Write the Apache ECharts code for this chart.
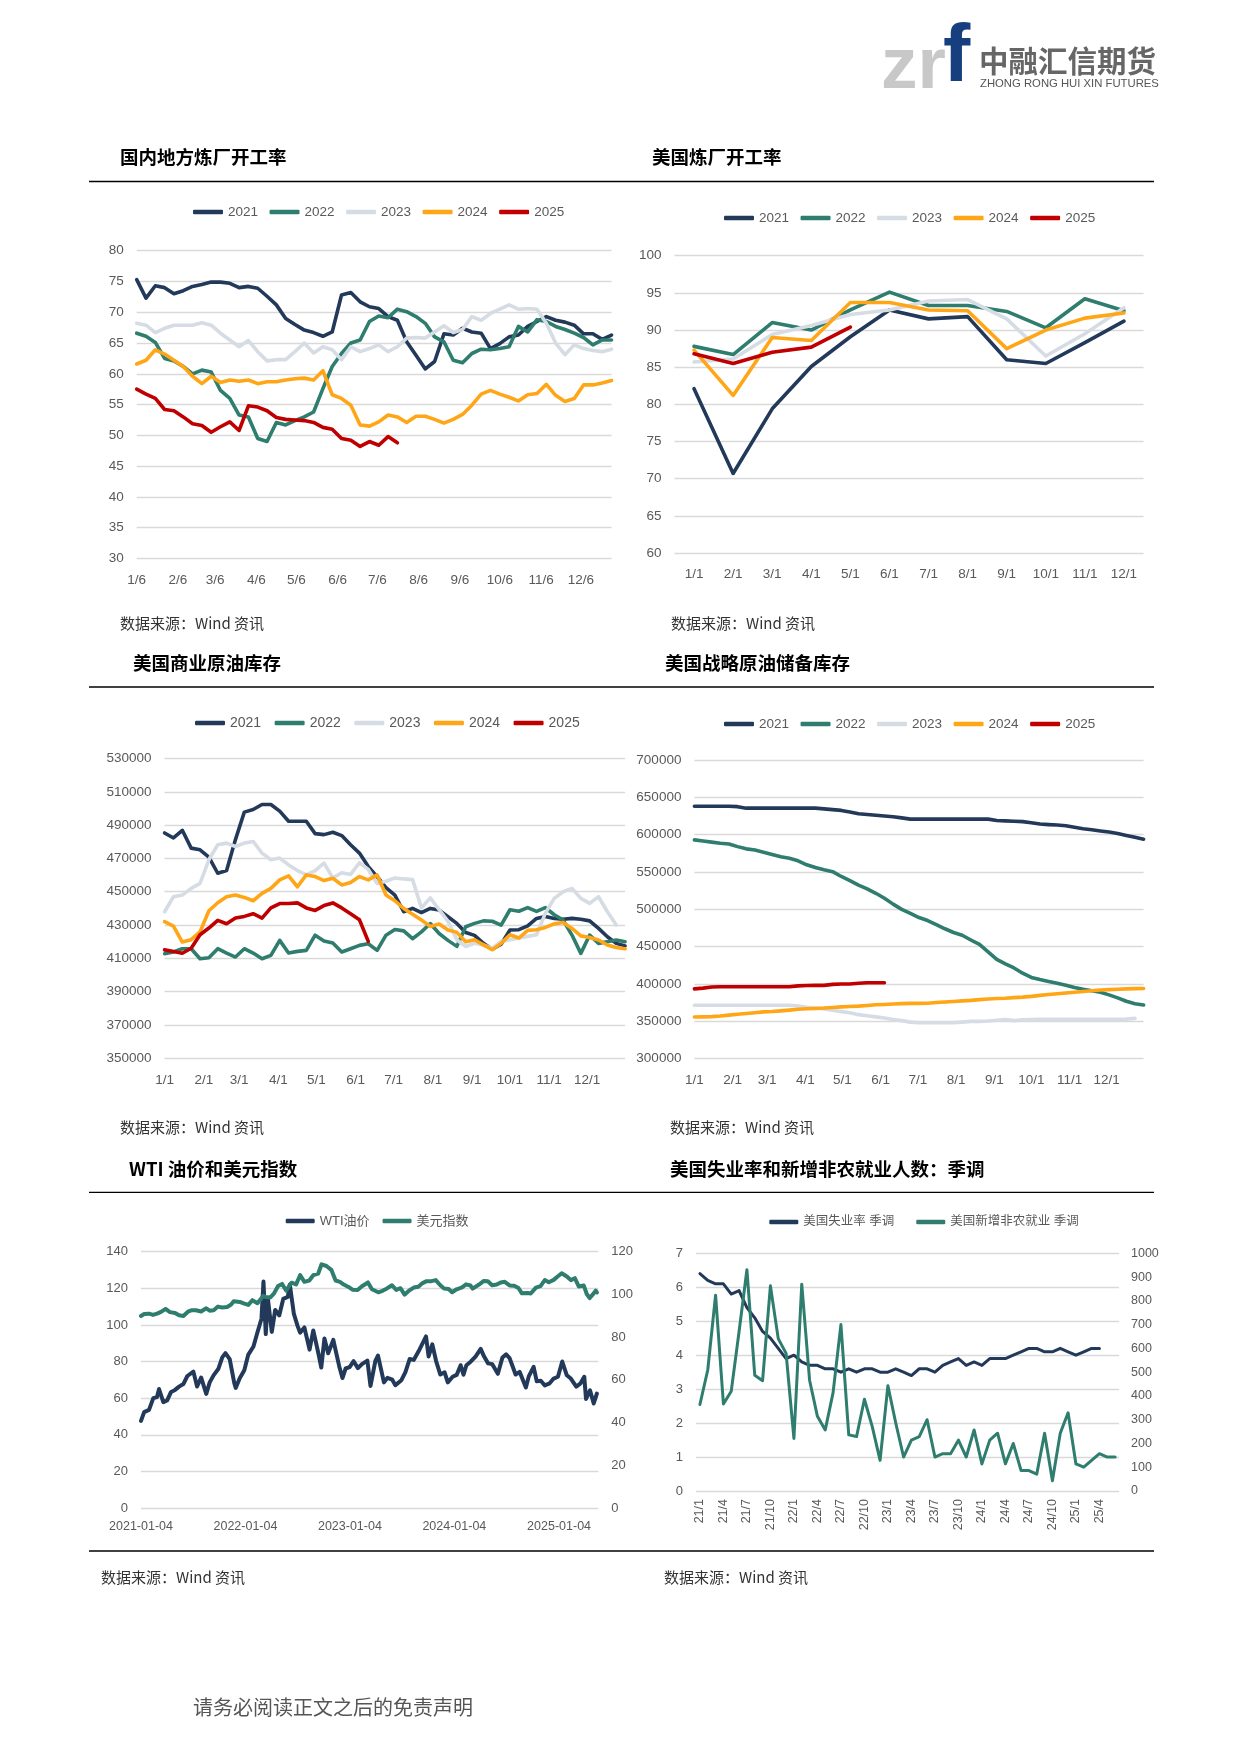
<!DOCTYPE html>
<html><head><meta charset="utf-8">
<script src="https://cdn.jsdelivr.net/npm/echarts@6/dist/echarts.min.js"></script>
<style>html,body{margin:0;padding:0;background:#fff}#page{width:1241px;height:1755px}</style>
</head><body><div id="page"></div>
<script>
// ---------- shared ----------
const years = ['2021','2022','2023','2024','2025'];
const yearColors = ['#22395a','#2e7d6e','#d6dce4','#ffa617','#c00000'];
const monthOffsets = [0,31,59,90,120,151,181,212,243,273,304,334];

// ---------- chart 1: 国内地方炼厂开工率 (weekly) ----------
const c1Ticks = ['1/6','2/6','3/6','4/6','5/6','6/6','7/6','8/6','9/6','10/6','11/6','12/6'];
const c1_2021 = [75.3,72.3,74.3,74.0,73.0,73.5,74.2,74.5,74.9,74.9,74.7,74.0,74.2,73.9,72.6,71.2,69.0,68.0,67.1,66.7,66.1,66.8,72.8,73.2,71.7,70.9,70.6,69.3,68.7,65.2,63.0,60.8,62.0,66.5,66.3,67.4,66.8,66.6,64.1,64.9,66.0,66.3,67.7,68.5,69.3,68.7,68.4,67.9,66.5,66.5,65.6,66.3];
const c1_2022 = [66.6,66.1,65.1,62.5,62.1,61.2,60.0,60.6,60.3,57.3,56.0,53.3,53.0,49.5,49.0,52.1,51.7,52.4,53.0,53.8,57.6,61.2,63.3,65.0,65.5,68.5,69.4,69.1,70.5,70.1,69.3,68.2,66.0,65.2,62.2,61.8,63.3,64.0,63.9,64.1,64.4,67.7,66.8,68.8,68.5,67.7,67.2,66.6,65.9,64.7,65.5,65.5];
const c1_2023 = [68.2,67.9,66.7,67.4,67.9,67.9,67.9,68.3,67.9,66.6,65.5,64.4,65.4,63.6,62.1,62.3,62.3,63.6,65.0,63.4,64.4,63.9,62.3,64.4,63.6,64.1,64.7,63.6,64.4,65.8,65.9,65.8,66.8,67.8,66.7,67.2,69.3,68.7,69.8,70.5,71.2,70.5,70.6,70.5,68.2,65.0,63.1,64.7,64.1,63.8,63.6,64.0];
const c1_2024 = [61.6,62.2,63.9,63.2,62.2,61.2,59.6,58.4,59.6,58.6,59.0,58.8,59.0,58.4,58.7,58.7,59.0,59.2,59.3,59.0,60.5,56.6,56.0,54.9,51.7,51.5,52.2,53.3,53.0,52.1,53.1,53.1,52.6,52.0,52.6,53.4,54.9,56.7,57.3,56.7,56.2,55.6,56.6,56.8,58.3,56.5,55.5,56.0,58.2,58.2,58.5,58.9];
const c1_2025 = [57.5,56.7,56.0,54.2,54.0,53.0,51.9,51.6,50.5,51.4,52.2,50.8,54.8,54.6,54.0,52.9,52.6,52.5,52.4,52.1,51.3,51.0,49.5,49.2,48.2,49.0,48.4,49.8,48.8];

// ---------- chart 2: 美国炼厂开工率 (monthly) ----------
const c2Months = ['1/1','2/1','3/1','4/1','5/1','6/1','7/1','8/1','9/1','10/1','11/1','12/1'];
const c2_2021 = [82.1,70.7,79.4,85.1,89.1,92.7,91.5,91.8,86.0,85.5,88.3,91.2];
const c2_2022 = [87.8,86.7,91.0,90.0,92.7,95.1,93.3,93.3,92.5,90.3,94.2,92.6];
const c2_2023 = [85.7,86.1,89.4,90.6,92.1,92.7,93.9,94.1,91.5,86.5,89.5,93.0];
const c2_2024 = [87.3,81.2,89.0,88.6,93.7,93.7,92.7,92.6,87.5,90.0,91.6,92.3];
const c2_2025 = [86.8,85.5,87.0,87.7,90.4];

// ---------- chart 3: 美国商业原油库存 (weekly) ----------
const c3Ticks = ['1/1','2/1','3/1','4/1','5/1','6/1','7/1','8/1','9/1','10/1','11/1','12/1'];
const c3_2021 = [485300,482300,486900,476200,475200,470800,461100,462700,481300,497800,499400,502400,502400,498400,492300,492300,492300,484900,484300,485700,483700,478200,473200,465100,459000,452500,448000,438000,440000,437500,440000,439000,435000,431000,425500,423800,419000,415500,418500,427000,427200,429500,434000,435200,434000,433500,434000,433500,432500,428000,423000,419000,417500];
const c3_2022 = [412800,413800,415800,415800,409800,410400,415800,413200,410800,415800,413200,409800,411800,420800,413200,414200,414800,423900,420400,419200,413800,415800,417800,418800,414800,423900,427300,426500,421800,425900,430900,424900,420800,417200,429000,431000,432500,432300,430000,439200,438300,440500,438200,440500,436200,433000,424000,413000,424000,419000,420000,421000,420000];
const c3_2023 = [438000,447000,448000,452000,455000,469200,478200,479200,477200,479200,480200,473200,469200,470200,466100,462700,460100,462700,467200,458300,461400,460400,467400,463400,455000,456300,458300,457700,457300,440300,446300,439300,432200,421200,417100,419100,418100,416100,420200,421200,422200,423200,424200,437200,446000,450000,452000,446000,443000,447000,438000,430000];
const c3_2024 = [432000,429300,419800,421200,425900,438600,443400,447000,448000,446600,444600,449000,452000,457100,459500,453000,460100,459100,456700,458100,454100,455500,459100,457100,460100,448000,444600,440000,436500,433000,429200,430600,427000,425600,420000,421200,418100,415200,419000,424200,422200,426800,427200,428600,430700,431500,428000,423500,422500,421000,418000,416500,415800];
const c3_2025 = [415100,414100,413100,416100,424200,428200,432800,430800,434200,435200,436800,434200,440300,442900,442900,443300,440300,438800,441700,443300,440300,436800,433200,420200];

// ---------- chart 4: 美国战略原油储备库存 (weekly) ----------
const c4_2021 = [638000,638000,638000,638000,638000,637500,635500,635500,635500,635500,635500,635500,635500,635500,635500,634500,633500,632500,630500,628000,627000,626000,625000,624000,622500,620800,620800,620800,620800,620800,620800,620800,620800,620800,620800,619000,618500,618000,617500,616000,614200,613500,613000,612000,610000,608000,606500,605000,603500,601500,599000,596500,594000];
const c4_2022 = [593000,591500,590000,588500,587600,584000,581000,579500,576500,573500,570500,568500,565000,559700,556000,553000,550500,544000,538500,532500,527500,521500,514800,507000,500000,494500,489000,485000,479500,474000,469000,465300,459000,453000,443000,433000,427000,421500,414500,408800,406000,403500,401000,398500,395500,393000,391000,389000,385500,381500,377000,373500,372000];
const c4_2023 = [371500,371500,371500,371500,371500,371500,371500,371500,371500,371500,371500,371500,370500,369000,368000,366500,365000,363000,361500,359000,357500,356000,354500,352500,351000,349000,348200,348200,348200,348200,348200,349000,350000,350000,350500,351500,352500,351000,352000,352500,352700,352700,352700,352700,352700,352700,352700,352700,352700,352700,353000,354000];
const c4_2024 = [355800,356000,356300,357200,358400,359500,360500,361500,362700,363200,364000,365000,366200,366800,367300,367800,368600,369400,370000,370400,371300,372200,372600,373200,373700,374100,374100,374200,375200,376000,376700,377400,378100,379100,380000,380700,381000,381800,382500,383500,384800,386000,387000,388000,389000,390000,391000,392000,392500,393000,393500,393800,394000];
const c4_2025 = [393500,394500,396000,396400,396400,396400,396400,396400,396400,396400,396400,396400,397500,398000,398200,398200,399500,400000,400000,401000,401800,401800,401800];

// ---------- chart 5: WTI油价 / 美元指数 ----------
const c5YearTicks = ['2021-01-04','2022-01-04','2023-01-04','2024-01-04','2025-01-04'];
const wtiDates = ['2021-01-04','2021-01-15','2021-02-01','2021-02-16','2021-03-01','2021-03-08','2021-03-23','2021-04-05','2021-04-19','2021-05-03','2021-05-17','2021-06-01','2021-06-15','2021-07-06','2021-07-19','2021-08-02','2021-08-20','2021-09-01','2021-09-15','2021-10-01','2021-10-15','2021-10-26','2021-11-10','2021-11-26','2021-12-01','2021-12-15','2021-12-31',
'2022-01-14','2022-02-01','2022-02-14','2022-03-01','2022-03-08','2022-03-16','2022-03-23','2022-04-06','2022-04-18','2022-05-02','2022-05-16','2022-06-01','2022-06-08','2022-06-22','2022-07-05','2022-07-14','2022-07-29','2022-08-16','2022-08-29','2022-09-15','2022-09-26','2022-10-07','2022-10-20','2022-11-07','2022-11-28','2022-12-09','2022-12-20',
'2023-01-03','2023-01-17','2023-02-01','2023-02-15','2023-03-06','2023-03-17','2023-04-03','2023-04-12','2023-05-03','2023-05-15','2023-06-01','2023-06-12','2023-07-03','2023-07-17','2023-08-01','2023-08-15','2023-09-01','2023-09-27','2023-10-06','2023-10-19','2023-11-01','2023-11-16','2023-12-01','2023-12-12','2023-12-29',
'2024-01-12','2024-01-26','2024-02-05','2024-02-15','2024-03-01','2024-03-18','2024-04-05','2024-04-17','2024-05-01','2024-05-15','2024-06-04','2024-06-20','2024-07-03','2024-07-15','2024-08-05','2024-08-19','2024-09-10','2024-09-20','2024-10-07','2024-10-18','2024-11-01','2024-11-15','2024-12-02','2024-12-16','2024-12-31',
'2025-01-15','2025-01-31','2025-02-14','2025-03-05','2025-03-20','2025-04-02','2025-04-08','2025-04-22','2025-05-05','2025-05-16'];
const wtiValues = [47.6,52.4,53.6,60.0,60.6,65.0,57.8,58.7,63.4,64.5,66.3,67.7,72.1,74.5,66.4,71.3,62.3,68.6,72.6,75.9,82.3,84.6,81.3,68.2,65.6,70.9,75.2,
83.8,88.2,95.5,103.4,123.7,95.0,114.9,96.2,108.2,105.2,114.2,115.3,122.1,106.2,99.5,95.8,98.6,86.5,97.0,85.1,76.7,92.6,84.5,91.8,77.2,71.0,76.2,
76.9,80.2,76.4,78.6,80.5,66.7,80.4,83.3,68.6,71.1,70.1,67.1,69.8,74.2,81.4,80.9,85.6,93.7,82.8,89.4,80.4,72.9,74.1,68.6,71.7,
72.7,78.0,72.8,78.0,79.9,82.7,86.9,82.7,79.0,78.6,73.3,82.2,83.9,81.9,72.9,74.4,65.8,71.9,77.1,69.2,69.5,67.0,68.1,70.7,71.7,
80.0,72.5,70.7,66.3,68.1,71.7,59.6,64.3,57.1,62.5];
const dxyDates = ['2021-01-04','2021-01-15','2021-02-01','2021-02-15','2021-03-01','2021-03-15','2021-03-31','2021-04-15','2021-05-03','2021-05-17','2021-06-01','2021-06-17','2021-07-01','2021-07-15','2021-08-02','2021-08-20','2021-09-01','2021-09-15','2021-09-30','2021-10-15','2021-11-01','2021-11-15','2021-11-24','2021-12-15','2021-12-31',
'2022-01-14','2022-01-28','2022-02-15','2022-03-07','2022-03-15','2022-04-01','2022-04-14','2022-04-28','2022-05-12','2022-05-26','2022-06-14','2022-06-30','2022-07-14','2022-07-29','2022-08-15','2022-08-29','2022-09-15','2022-09-27','2022-10-14','2022-10-31','2022-11-15','2022-11-30','2022-12-15','2022-12-30',
'2023-01-13','2023-01-31','2023-02-15','2023-02-28','2023-03-08','2023-03-22','2023-04-13','2023-04-28','2023-05-12','2023-05-31','2023-06-15','2023-06-30','2023-07-14','2023-07-31','2023-08-15','2023-08-31','2023-09-15','2023-09-29','2023-10-03','2023-10-16','2023-10-31','2023-11-15','2023-11-29','2023-12-15','2023-12-27',
'2024-01-12','2024-01-31','2024-02-14','2024-02-29','2024-03-08','2024-03-29','2024-04-16','2024-04-30','2024-05-15','2024-05-31','2024-06-14','2024-06-28','2024-07-15','2024-07-31','2024-08-15','2024-08-27','2024-09-16','2024-09-27','2024-10-15','2024-10-31','2024-11-15','2024-11-29','2024-12-16','2024-12-31',
'2025-01-13','2025-01-31','2025-02-14','2025-02-28','2025-03-14','2025-03-31','2025-04-11','2025-04-21','2025-05-02','2025-05-12','2025-05-16'];
const dxyValues = [89.9,90.8,91.0,90.4,91.0,91.8,93.2,91.7,91.3,90.2,89.9,91.9,92.6,92.6,92.0,93.5,92.4,92.6,94.3,93.9,94.1,95.3,96.8,96.5,95.7,
95.1,97.3,95.9,99.3,98.8,98.6,100.5,103.9,104.9,101.8,105.5,104.7,109.0,105.9,106.5,109.0,109.7,114.1,113.3,111.5,106.5,105.9,104.5,103.5,
102.2,102.1,103.8,104.9,105.6,102.4,101.0,101.7,102.7,104.3,102.1,102.9,99.9,101.9,103.2,103.6,105.3,106.2,107.0,106.2,106.7,104.4,102.8,102.5,101.0,
102.4,103.3,104.7,104.2,102.7,104.5,106.3,106.2,104.3,104.6,105.6,105.9,104.2,104.1,103.0,100.5,100.7,100.4,103.2,103.9,106.7,105.7,106.8,108.5,
109.9,108.4,106.7,107.6,103.7,104.2,100.1,98.3,100.0,101.8,100.9];

// ---------- chart 6: 美国失业率 / 新增非农 ----------
const c6Months = [];
for (let y = 21; y <= 25; y++) for (let m = 1; m <= 12; m++) { if (y === 25 && m > 6) break; c6Months.push(y + '/' + m); }
const unempRate = [6.4,6.2,6.1,6.1,5.8,5.9,5.4,5.1,4.7,4.5,4.2,3.9,
4.0,3.8,3.7,3.7,3.6,3.6,3.5,3.6,3.5,3.6,3.6,3.5,
3.5,3.6,3.5,3.4,3.6,3.6,3.5,3.7,3.8,3.9,3.7,3.8,
3.7,3.9,3.9,3.9,4.0,4.1,4.2,4.2,4.1,4.1,4.2,4.1,
4.0,4.1,4.2,4.2];
const nonfarm = [364,509,824,366,420,671,931,487,464,863,641,579,
221,870,466,314,257,414,700,236,229,386,271,129,
443,286,143,214,229,300,143,157,157,214,143,257,
114,214,243,114,200,86,86,71,243,43,243,329,
114,100,129,157,143,143];

// ---------- helpers ----------
const NARROW = '"Liberation Sans Narrow","Liberation Sans",Arial,sans-serif';
const CJK = '"Noto Sans CJK SC","Noto Sans",sans-serif';
const labelColor = '#595959';
const gridLine = {show:true, lineStyle:{color:'#d9d9d9', width:1.3}};
const dayOf = s => Math.round((Date.parse(s) - Date.parse('2021-01-04')) / 86400000);
const weekly = arr => arr.map((v, i) => [i * 7, v]);
const plain = v => String(v);

function valueY(gi, min, max, interval, opts) {
  return Object.assign({type:'value', gridIndex:gi, min, max, interval,
    axisLine:{show:false}, axisTick:{show:false}, splitLine:gridLine,
    axisLabel:{color:labelColor, fontFamily:NARROW, fontSize:13.5, margin:13, formatter:plain}}, opts || {});
}
function dayX(gi, max, ticks, margin) {
  return {type:'value', gridIndex:gi, min:0, max,
    axisLine:{show:false}, axisTick:{show:false}, splitLine:{show:false},
    axisLabel:{color:labelColor, fontFamily:NARROW, fontSize:13.5, margin,
      customValues: monthOffsets, formatter: v => ticks[monthOffsets.indexOf(v)] || ''}};
}
function line(name, data, color, xi, yi, width) {
  return {type:'line', name, data, xAxisIndex:xi, yAxisIndex:yi, symbol:'none', showSymbol:false,
    lineStyle:{color, width, cap:'round', join:'round'}, itemStyle:{color},
    animation:false, silent:true, emphasis:{disabled:true}, z:2};
}
function legend(left, top, names, gap, iw, fs) {
  return {left, top, padding:0, itemGap:gap, itemWidth:iw, itemHeight:4.5, icon:'roundRect',
    selectedMode:false, data:names,
    textStyle:{color:labelColor, fontFamily:NARROW + ',' + CJK, fontSize:fs, lineHeight:16}};
}

const series = [];
[c1_2021,c1_2022,c1_2023,c1_2024,c1_2025].forEach((d,k)=>series.push(line(years[k], weekly(d), yearColors[k], 0, 0, 3.6)));
[c2_2021,c2_2022,c2_2023,c2_2024,c2_2025].forEach((d,k)=>series.push(line(years[k], d, yearColors[k], 1, 1, 3.6)));
[c3_2021,c3_2022,c3_2023,c3_2024,c3_2025].forEach((d,k)=>series.push(line(years[k], weekly(d), yearColors[k], 2, 2, 3.6)));
[c4_2021,c4_2022,c4_2023,c4_2024,c4_2025].forEach((d,k)=>series.push(line(years[k], weekly(d), yearColors[k], 3, 3, 3.6)));
series.push(line('WTI油价', wtiDates.map((d,i)=>[dayOf(d), wtiValues[i]]), '#22395a', 4, 4, 4));
series.push(line('美元指数', dxyDates.map((d,i)=>[dayOf(d), dxyValues[i]]), '#2e7d6e', 4, 5, 4));
series.push(line('美国失业率 季调', unempRate, '#22395a', 5, 6, 3));
series.push(line('美国新增非农就业 季调', nonfarm, '#2e7d6e', 5, 7, 3));

const c5Ticks = c5YearTicks.map(dayOf);

const T = (text, x, y, font, fill, align) => ({type:'text', x, y, silent:true,
  style:{text, font, fill, textAlign:align || 'left', textVerticalAlign:'middle'}});
const HL = y => ({type:'line', silent:true, shape:{x1:89, y1:y, x2:1154, y2:y}, style:{stroke:'#000', lineWidth:1.3}});
const titleFont = 'bold 18.5px ' + CJK;
const srcFont = '15px ' + CJK;
const src = '数据来源：Wind 资讯';

const option = {
  backgroundColor:'#fff',
  animation:false,
  grid:[
    {left:136.7, top:250.7, width:474.8, height:307.8, outerBoundsMode:'none'},
    {left:674.5, top:255.7, width:469, height:297.3, outerBoundsMode:'none'},
    {left:164.6, top:758.5, width:460.5, height:299.8, outerBoundsMode:'none'},
    {left:694.4, top:760, width:449.2, height:298.7, outerBoundsMode:'none'},
    {left:141, top:1251.7, width:457.3, height:256.3, outerBoundsMode:'none'},
    {left:696, top:1253.3, width:423, height:237.7, outerBoundsMode:'none'}
  ],
  xAxis:[
    dayX(0, 357, c1Ticks, 15),
    {type:'category', gridIndex:1, data:c2Months, boundaryGap:true, axisLine:{show:false}, axisTick:{show:false},
      axisLabel:{color:labelColor, fontFamily:NARROW, fontSize:13.5, margin:14, interval:0}},
    dayX(2, 364, c3Ticks, 15),
    dayX(3, 364, c3Ticks, 15),
    {type:'value', gridIndex:4, min:0, max:1598, axisLine:{show:false}, axisTick:{show:false}, splitLine:{show:false},
      axisLabel:{color:labelColor, fontFamily:NARROW, fontSize:12.5, margin:12, customValues:c5Ticks,
        formatter: v => c5YearTicks[c5Ticks.indexOf(v)] || ''}},
    {type:'category', gridIndex:5, data:c6Months, boundaryGap:true, axisLine:{show:false}, axisTick:{show:false},
      axisLabel:{color:labelColor, fontFamily:NARROW, fontSize:12.5, margin:8, interval:2, rotate:90}}
  ],
  yAxis:[
    valueY(0, 30, 80, 5),
    valueY(1, 60, 100, 5),
    valueY(2, 350000, 530000, 20000),
    valueY(3, 300000, 700000, 50000),
    valueY(4, 0, 140, 20, {axisLabel:{color:labelColor, fontFamily:NARROW, fontSize:13, margin:13, formatter:plain}}),
    valueY(4, 0, 120, 20, {position:'right', splitLine:{show:false}, axisLabel:{color:labelColor, fontFamily:NARROW, fontSize:13, margin:13, formatter:plain}}),
    valueY(5, 0, 7, 1, {axisLabel:{color:labelColor, fontFamily:NARROW, fontSize:13, margin:13, formatter:plain}}),
    valueY(5, 0, 1000, 100, {position:'right', splitLine:{show:false}, axisLabel:{color:labelColor, fontFamily:NARROW, fontSize:12.5, margin:12, formatter:plain}})
  ],
  legend:[
    legend(193, 204, years, 11.5, 30, 13.5),
    legend(724, 210, years, 11.5, 30, 13.5),
    legend(195, 715, years, 13.5, 30, 14),
    legend(724, 716, years, 11.5, 30, 13.5),
    legend(285.7, 1213, ['WTI油价','美元指数'], 13, 29, 13),
    legend(769.3, 1214, ['美国失业率 季调','美国新增非农就业 季调'], 22, 29, 12.5)
  ],
  series,
  graphic:[
    // logo
    T('zr', 881, 68, 'bold 73px "Liberation Sans",Arial,sans-serif', '#c8c8c8'),
    T('f', 943, 58, 'bold 82px "Liberation Sans",Arial,sans-serif', '#173f7f'),
    T('中融汇信期货', 979, 60.5, 'bold 29.5px ' + CJK, '#666666'),
    T('ZHONG RONG HUI XIN FUTURES', 980, 84, '11.3px "Liberation Sans",Arial,sans-serif', '#555555'),
    // titles
    T('国内地方炼厂开工率', 120, 157, titleFont, '#000'),
    T('美国炼厂开工率', 652, 157, titleFont, '#000'),
    T('美国商业原油库存', 133, 662.5, titleFont, '#000'),
    T('美国战略原油储备库存', 665, 662.5, titleFont, '#000'),
    T('WTI 油价和美元指数', 129, 1168.5, titleFont, '#000'),
    T('美国失业率和新增非农就业人数：季调', 670, 1168.5, titleFont, '#000'),
    HL(181.5), HL(687), HL(1192.3), HL(1551),
    // sources
    T(src, 120, 623, srcFont, '#333'),
    T(src, 671, 623, srcFont, '#333'),
    T(src, 120, 1127.5, srcFont, '#333'),
    T(src, 670, 1127.5, srcFont, '#333'),
    T(src, 101, 1577, srcFont, '#333'),
    T(src, 664, 1577, srcFont, '#333'),
    // footer
    T('请务必阅读正文之后的免责声明', 193, 1707, '20px ' + CJK, '#555555')
  ]
};

const chart = echarts.init(document.getElementById('page'), null, {width:1241, height:1755});
chart.setOption(option);
</script></body></html>
